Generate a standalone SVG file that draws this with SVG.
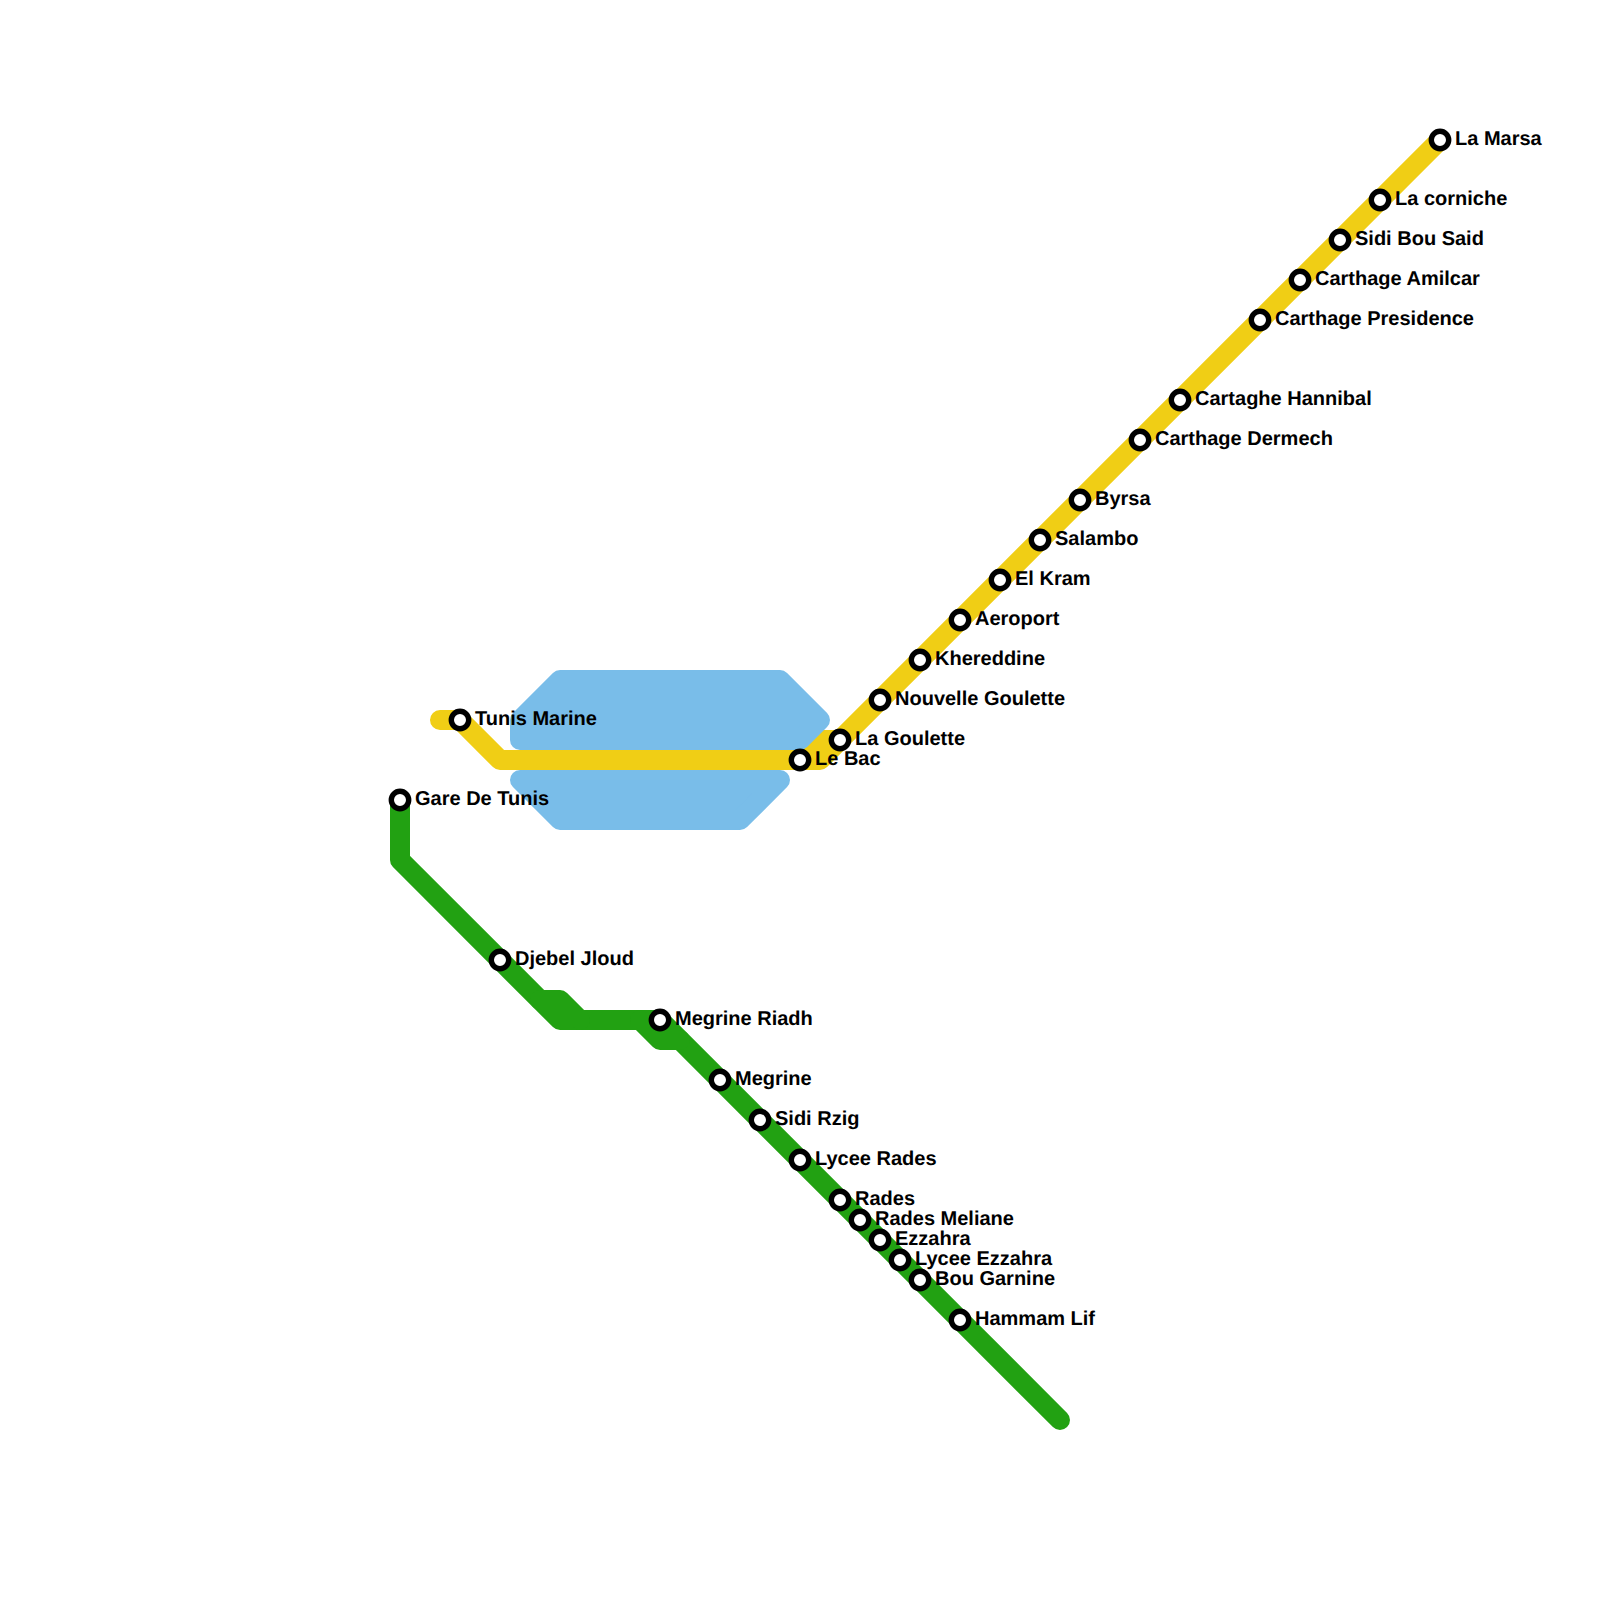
<svg xmlns="http://www.w3.org/2000/svg" width="1600" height="1600" viewBox="0 0 1600 1600">
<style>
.lake{fill:#79bde9;stroke:#79bde9;stroke-width:20;stroke-linejoin:round}
.line{fill:none;stroke-width:20;stroke-linecap:round;stroke-linejoin:round}
.g{stroke:#22a112}
.y{stroke:#f0ce15}
.st{fill:#fff;stroke:#000;stroke-width:5.4}
text{font-family:"Liberation Sans",Arial,sans-serif;font-weight:bold;font-size:20px;fill:#000;text-rendering:geometricPrecision}
</style>
<g id="connectors">
<path class="line g" d="M400 800V860L560 1020H660L1060 1420"/>
<path class="line g" d="M540 1000H560L580 1020"/>
<path class="line g" d="M640 1020L660 1040H680"/>
<path class="line y" d="M440 720H460L500 760H820L1440 140"/>
<path class="line y" d="M800 760L820 740H840"/>
</g>
<g id="water">
<path class="lake" d="M520 720L560 680H780L820 720L800 740H520Z"/>
<path class="lake" d="M520 780H780L740 820H560Z"/>
</g>
<g id="tunis-marine"><circle class="st" cx="460" cy="720" r="8.7"/><text x="475" y="725">Tunis Marine</text></g>
<g id="gare-de-tunis"><circle class="st" cx="400" cy="800" r="8.7"/><text x="415" y="805">Gare De Tunis</text></g>
<g id="djebel-jloud"><circle class="st" cx="500" cy="960" r="8.7"/><text x="515" y="965">Djebel Jloud</text></g>
<g id="megrine-riadh"><circle class="st" cx="660" cy="1020" r="8.7"/><text x="675" y="1025">Megrine Riadh</text></g>
<g id="megrine"><circle class="st" cx="720" cy="1080" r="8.7"/><text x="735" y="1085">Megrine</text></g>
<g id="sidi-rzig"><circle class="st" cx="760" cy="1120" r="8.7"/><text x="775" y="1125">Sidi Rzig</text></g>
<g id="lycee-rades"><circle class="st" cx="800" cy="1160" r="8.7"/><text x="815" y="1165">Lycee Rades</text></g>
<g id="rades"><circle class="st" cx="840" cy="1200" r="8.7"/><text x="855" y="1205">Rades</text></g>
<g id="rades-meliane"><circle class="st" cx="860" cy="1220" r="8.7"/><text x="875" y="1225">Rades Meliane</text></g>
<g id="ezzahra"><circle class="st" cx="880" cy="1240" r="8.7"/><text x="895" y="1245">Ezzahra</text></g>
<g id="lycee-ezzahra"><circle class="st" cx="900" cy="1260" r="8.7"/><text x="915" y="1265">Lycee Ezzahra</text></g>
<g id="bou-garnine"><circle class="st" cx="920" cy="1280" r="8.7"/><text x="935" y="1285">Bou Garnine</text></g>
<g id="hammam-lif"><circle class="st" cx="960" cy="1320" r="8.7"/><text x="975" y="1325">Hammam Lif</text></g>
<g id="le-bac"><circle class="st" cx="800" cy="760" r="8.7"/><text x="815" y="765">Le Bac</text></g>
<g id="la-goulette"><circle class="st" cx="840" cy="740" r="8.7"/><text x="855" y="745">La Goulette</text></g>
<g id="nouvelle-goulette"><circle class="st" cx="880" cy="700" r="8.7"/><text x="895" y="705">Nouvelle Goulette</text></g>
<g id="khereddine"><circle class="st" cx="920" cy="660" r="8.7"/><text x="935" y="665">Khereddine</text></g>
<g id="aeroport"><circle class="st" cx="960" cy="620" r="8.7"/><text x="975" y="625">Aeroport</text></g>
<g id="el-kram"><circle class="st" cx="1000" cy="580" r="8.7"/><text x="1015" y="585">El Kram</text></g>
<g id="salambo"><circle class="st" cx="1040" cy="540" r="8.7"/><text x="1055" y="545">Salambo</text></g>
<g id="byrsa"><circle class="st" cx="1080" cy="500" r="8.7"/><text x="1095" y="505">Byrsa</text></g>
<g id="carthage-dermech"><circle class="st" cx="1140" cy="440" r="8.7"/><text x="1155" y="445">Carthage Dermech</text></g>
<g id="cartaghe-hannibal"><circle class="st" cx="1180" cy="400" r="8.7"/><text x="1195" y="405">Cartaghe Hannibal</text></g>
<g id="carthage-presidence"><circle class="st" cx="1260" cy="320" r="8.7"/><text x="1275" y="325">Carthage Presidence</text></g>
<g id="carthage-amilcar"><circle class="st" cx="1300" cy="280" r="8.7"/><text x="1315" y="285">Carthage Amilcar</text></g>
<g id="sidi-bou-said"><circle class="st" cx="1340" cy="240" r="8.7"/><text x="1355" y="245">Sidi Bou Said</text></g>
<g id="la-corniche"><circle class="st" cx="1380" cy="200" r="8.7"/><text x="1395" y="205">La corniche</text></g>
<g id="la-marsa"><circle class="st" cx="1440" cy="140" r="8.7"/><text x="1455" y="145">La Marsa</text></g>
</svg>
